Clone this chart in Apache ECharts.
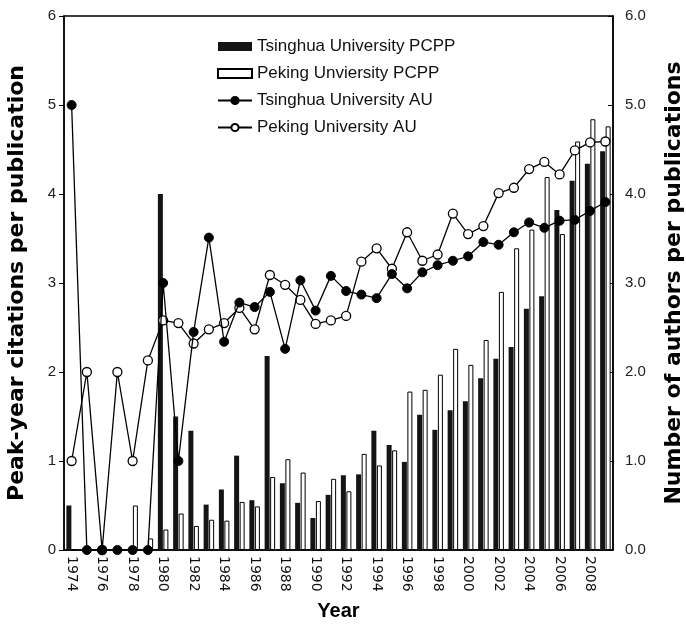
<!DOCTYPE html>
<html>
<head>
<meta charset="utf-8">
<script src="https://cdn.jsdelivr.net/npm/echarts@6/dist/echarts.min.js"></script>
<style>
  html, body { margin: 0; padding: 0; background: #fff; }
  #chart { width: 686px; height: 626px; }
</style>
</head>
<body>
<div id="chart"></div>
<script>
// years on the x axis
var years = [];
for (var y = 1974; y <= 2009; y++) years.push(String(y));

// peak-year citations per publication (left axis)
var tsinghuaPCPP = [0.5, 0, 0, 0, 0, 0, 4.0, 1.5, 1.34, 0.51, 0.68, 1.06, 0.56, 2.18, 0.75, 0.53, 0.36, 0.62,
  0.84, 0.85, 1.34, 1.18, 0.99, 1.52, 1.35, 1.57, 1.67, 1.93, 2.15, 2.28, 2.71, 2.85, 3.82, 4.15, 4.34, 4.48];
var pekingPCPP = [0, 0, 0, 0, 0.5, 0.13, 0.23, 0.41, 0.27, 0.34, 0.33, 0.54, 0.49, 0.82, 1.02, 0.87, 0.55, 0.8,
  0.66, 1.08, 0.95, 1.12, 1.78, 1.8, 1.97, 2.26, 2.08, 2.36, 2.9, 3.39, 3.6, 4.19, 3.55, 4.59, 4.84, 4.76];

// number of authors per publication (right axis)
var tsinghuaAU = [5, 0, 0, 0, 0, 0, 3.0, 1.0, 2.45, 3.51, 2.34, 2.78, 2.73, 2.9, 2.26, 3.03, 2.69, 3.08,
  2.91, 2.87, 2.83, 3.1, 2.94, 3.12, 3.2, 3.25, 3.3, 3.46, 3.43, 3.57, 3.68, 3.62, 3.7, 3.71, 3.81, 3.91];
var pekingAU = [1, 2, 0, 2, 1, 2.13, 2.58, 2.55, 2.32, 2.48, 2.55, 2.72, 2.48, 3.09, 2.98, 2.81, 2.54, 2.58,
  2.63, 3.24, 3.39, 3.16, 3.57, 3.25, 3.32, 3.78, 3.55, 3.64, 4.01, 4.07, 4.28, 4.36, 4.22, 4.49, 4.58, 4.59];

var font = 'Liberation Sans, Arial, sans-serif';
var vfont = 'DejaVu Sans, sans-serif'; // wider face for the vertical texts
var chart = echarts.init(document.getElementById('chart'));

var option = {
  animation: false,
  textStyle: { fontFamily: font },
  grid: {
    left: 64, right: 73, top: 16, bottom: 76,
    outerBoundsMode: 'none',
    show: true, borderColor: '#000', borderWidth: 1.5
  },
  legend: {
    data: [
      { name: 'Tsinghua University PCPP', icon: 'rect' },
      { name: 'Peking Unviersity PCPP', icon: 'rect' },
      'Tsinghua University AU',
      'Peking University AU'
    ],
    orient: 'vertical',
    left: 212, top: 33,
    itemWidth: 34, itemHeight: 9,
    itemGap: 10,
    textStyle: { fontFamily: font, fontSize: 17, color: '#111' }
  },
  xAxis: {
    type: 'category',
    data: years,
    name: 'Year',
    nameLocation: 'middle',
    nameGap: 51,
    nameTextStyle: { fontFamily: font, fontSize: 20, fontWeight: 'bold', color: '#000' },
    axisLine: { lineStyle: { color: '#000', width: 1.5 } },
    axisTick: { interval: 1, alignWithLabel: true, length: 4, lineStyle: { color: '#000' } },
    axisLabel: { interval: 1, rotate: -90, fontFamily: vfont, fontSize: 14, color: '#111', margin: 6 }
  },
  yAxis: [{
    type: 'value',
    min: 0, max: 6, interval: 1,
    name: 'Peak-year citations per publication',
    nameLocation: 'middle',
    nameGap: 36,
    nameRotate: 90,
    nameTextStyle: { fontFamily: vfont, fontSize: 22, fontWeight: 'bold', color: '#000' },
    axisLine: { show: true, lineStyle: { color: '#000', width: 1.5 } },
    axisTick: { show: true, length: 5, lineStyle: { color: '#000' } },
    axisLabel: { fontSize: 15, color: '#222', margin: 8 },
    splitLine: { show: false }
  }, {
    type: 'value',
    min: 0, max: 6, interval: 1,
    name: 'Number of authors per publications',
    nameLocation: 'middle',
    nameGap: 50,
    nameRotate: 90,
    nameTextStyle: { fontFamily: vfont, fontSize: 22, fontWeight: 'bold', color: '#000' },
    axisLine: { show: true, lineStyle: { color: '#000', width: 1.5 } },
    axisTick: { show: true, inside: true, length: 5, lineStyle: { color: '#000' } },
    axisLabel: {
      fontSize: 15, color: '#222', margin: 12,
      formatter: function (v) { return v.toFixed(1) }
    },
    splitLine: { show: false }
  }],
  series: [
    {
      name: 'Tsinghua University PCPP',
      type: 'bar',
      yAxisIndex: 0,
      data: tsinghuaPCPP,
      barWidth: 5,
      barGap: '10%',
      itemStyle: { color: '#141414' },
      z: 2
    },
    {
      name: 'Peking Unviersity PCPP',
      type: 'bar',
      yAxisIndex: 0,
      data: pekingPCPP,
      barWidth: 5,
      itemStyle: { color: '#fff', borderColor: '#000', borderWidth: 1 },
      z: 2
    },
    {
      name: 'Peking University AU',
      type: 'line',
      yAxisIndex: 1,
      data: pekingAU,
      symbol: 'circle',
      symbolSize: 9,
      lineStyle: { color: '#000', width: 1.3 },
      itemStyle: { color: '#fff', borderColor: '#000', borderWidth: 1.3 },
      z: 3
    },
    {
      name: 'Tsinghua University AU',
      type: 'line',
      yAxisIndex: 1,
      data: tsinghuaAU,
      symbol: 'circle',
      symbolSize: 9,
      lineStyle: { color: '#000', width: 1.3 },
      itemStyle: { color: '#000', borderColor: '#000', borderWidth: 1 },
      z: 4
    }
  ]
};

chart.setOption(option);
window.addEventListener('resize', function () {
  chart.resize();
});
</script>
</body>
</html>
